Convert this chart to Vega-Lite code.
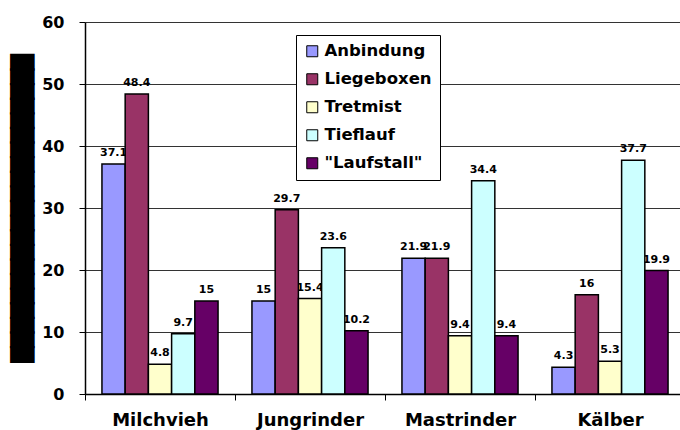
{
  "$schema": "https://vega.github.io/schema/vega-lite/v6.json",
  "width": 600,
  "height": 372,
  "autosize": {"type": "none"},
  "padding": {"left": 85, "top": 22, "right": 0, "bottom": 36},
  "background": "white",
  "config": {
    "view": {"stroke": null},
    "font": "DejaVu Sans",
    "style": {"guide-title": {"stroke": "black", "strokeWidth": 2}}
  },
  "data": {
    "values": [
      {"group": "Milchvieh", "type": "Anbindung", "value": 37.1},
      {"group": "Milchvieh", "type": "Liegeboxen", "value": 48.4},
      {"group": "Milchvieh", "type": "Tretmist", "value": 4.8},
      {"group": "Milchvieh", "type": "Tieflauf", "value": 9.7},
      {"group": "Milchvieh", "type": "\"Laufstall\"", "value": 15},
      {"group": "Jungrinder", "type": "Anbindung", "value": 15},
      {"group": "Jungrinder", "type": "Liegeboxen", "value": 29.7},
      {"group": "Jungrinder", "type": "Tretmist", "value": 15.4},
      {"group": "Jungrinder", "type": "Tieflauf", "value": 23.6},
      {"group": "Jungrinder", "type": "\"Laufstall\"", "value": 10.2},
      {"group": "Mastrinder", "type": "Anbindung", "value": 21.9},
      {"group": "Mastrinder", "type": "Liegeboxen", "value": 21.9},
      {"group": "Mastrinder", "type": "Tretmist", "value": 9.4},
      {"group": "Mastrinder", "type": "Tieflauf", "value": 34.4},
      {"group": "Mastrinder", "type": "\"Laufstall\"", "value": 9.4},
      {"group": "Kälber", "type": "Anbindung", "value": 4.3},
      {"group": "Kälber", "type": "Liegeboxen", "value": 16},
      {"group": "Kälber", "type": "Tretmist", "value": 5.3},
      {"group": "Kälber", "type": "Tieflauf", "value": 37.7},
      {"group": "Kälber", "type": "\"Laufstall\"", "value": 19.9}
    ]
  },
  "encoding": {
    "x": {
      "field": "group",
      "type": "nominal",
      "sort": ["Milchvieh", "Jungrinder", "Mastrinder", "Kälber"],
      "scale": {"paddingInner": 0, "paddingOuter": 0},
      "axis": {
        "title": null,
        "labelAngle": 0,
        "tickBand": "extent",
        "labelFont": "DejaVu Sans",
        "labelFontSize": 18,
        "labelFontWeight": "bold",
        "labelColor": "black",
        "labelPadding": 11,
        "tickSize": 6,
        "tickColor": "black",
        "domainColor": "black",
        "domainWidth": 1.5,
        "grid": false
      }
    },
    "xOffset": {
      "field": "type",
      "type": "nominal",
      "sort": ["Anbindung", "Liegeboxen", "Tretmist", "Tieflauf", "\"Laufstall\""],
      "scale": {"paddingInner": 0, "paddingOuter": 0.73}
    },
    "y": {
      "field": "value",
      "type": "quantitative",
      "scale": {"domain": [0, 60], "nice": false},
      "axis": {
        "values": [0, 10, 20, 30, 40, 50, 60],
        "grid": true,
        "gridColor": "#333333",
        "gridWidth": 1,
        "domainColor": "black",
        "domainWidth": 1.5,
        "tickColor": "black",
        "tickSize": 6,
        "labelFont": "DejaVu Sans",
        "labelFontSize": 16,
        "labelFontWeight": "bold",
        "labelColor": "black",
        "labelPadding": 15,
        "title": "█████████████████████",
        "titleFont": "DejaVu Sans",
        "titleFontSize": 19,
        "titleColor": "black",
        "titleAngle": -90,
        "titleX": -63,
        "titleY": 186,
        "titleAlign": "center",
        "titleBaseline": "middle"
      }
    }
  },
  "layer": [
    {
      "mark": {"type": "text", "dy": -11, "fontWeight": "bold", "fontSize": 11, "font": "DejaVu Sans", "color": "black"},
      "encoding": {"text": {"field": "value", "type": "quantitative"}}
    },
    {
      "mark": {"type": "bar", "stroke": "black", "strokeWidth": 1.5},
      "encoding": {
        "color": {
          "field": "type",
          "type": "nominal",
          "sort": ["Anbindung", "Liegeboxen", "Tretmist", "Tieflauf", "\"Laufstall\""],
          "scale": {
            "domain": ["Anbindung", "Liegeboxen", "Tretmist", "Tieflauf", "\"Laufstall\""],
            "range": ["#9999FF", "#993366", "#FFFFCC", "#CCFFFF", "#660066"]
          },
          "legend": {
            "orient": "none",
            "legendX": 211,
            "legendY": 13,
            "title": null,
            "fillColor": "white",
            "strokeColor": "black",
            "padding": 8,
            "symbolType": "square",
            "symbolSize": 121,
            "symbolStrokeColor": "black",
            "symbolStrokeWidth": 1,
            "symbolOpacity": 1,
            "labelFont": "DejaVu Sans",
            "labelFontSize": 16.5,
            "labelFontWeight": "bold",
            "labelColor": "black",
            "rowPadding": 11,
            "labelOffset": 4
          }
        }
      }
    }
  ]
}
